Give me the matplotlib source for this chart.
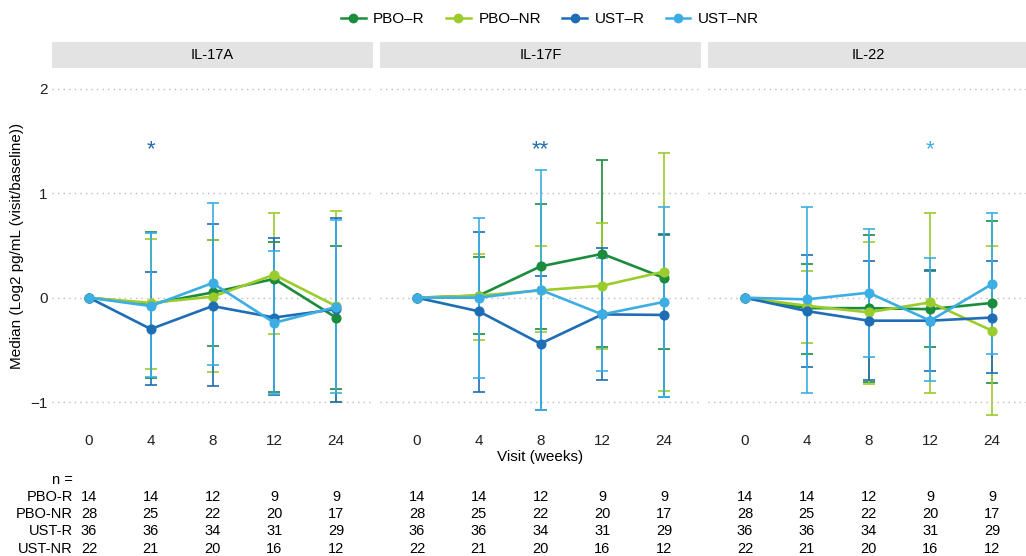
import matplotlib.pyplot as plt
import numpy as np

plt.rcParams['font.family'] = ['Liberation Sans', 'DejaVu Sans']

weeks = ['0', '4', '8', '12', '24']
groups = ['PBO\u2013R', 'PBO\u2013NR', 'UST\u2013R', 'UST\u2013NR']
row_names = ['PBO-R', 'PBO-NR', 'UST-R', 'UST-NR']
colors = ['#1a8c3c', '#9ccc2c', '#1f6db5', '#3daee3']
panels = ['IL-17A', 'IL-17F', 'IL-22']

# medians per panel, per group, per week
il17a_med = [[0, -0.06, 0.05, 0.18, -0.19],
             [0, -0.05, 0.01, 0.22, -0.08],
             [0, -0.30, -0.08, -0.19, -0.11],
             [0, -0.08, 0.14, -0.24, -0.09]]
il17a_lo = [[0, -0.77, -0.46, -0.90, -0.87],
            [0, -0.68, -0.71, -0.35, -1.00],
            [0, -0.84, -0.85, -0.93, -1.00],
            [0, -0.76, -0.64, -0.92, -0.91]]
il17a_hi = [[0, 0.625, 0.555, 0.535, 0.50],
            [0, 0.56, 0.55, 0.81, 0.83],
            [0, 0.25, 0.71, 0.57, 0.765],
            [0, 0.615, 0.91, 0.45, 0.74]]

il17f_med = [[0, 0.02, 0.30, 0.42, 0.19],
             [0, 0.02, 0.07, 0.115, 0.25],
             [0, -0.13, -0.44, -0.16, -0.165],
             [0, 0.0, 0.075, -0.16, -0.04]]
il17f_lo = [[0, -0.35, -0.30, -0.47, -0.49],
            [0, -0.405, -0.33, -0.49, -0.89],
            [0, -0.90, -1.08, -0.79, -0.95],
            [0, -0.77, -1.08, -0.70, -0.95]]
il17f_hi = [[0, 0.39, 0.90, 1.32, 0.60],
            [0, 0.42, 0.50, 0.72, 1.39],
            [0, 0.63, 0.21, 0.48, 0.61],
            [0, 0.76, 1.22, 0.38, 0.87]]

il22_med = [[0, -0.10, -0.10, -0.11, -0.05],
            [0, -0.077, -0.14, -0.045, -0.315],
            [0, -0.128, -0.22, -0.22, -0.19],
            [0, -0.016, 0.048, -0.22, 0.13]]
il22_lo = [[0, -0.54, -0.81, -0.475, -0.82],
           [0, -0.43, -0.83, -0.91, -1.12],
           [0, -0.66, -0.79, -0.70, -0.72],
           [0, -0.91, -0.565, -0.80, -0.54]]
il22_hi = [[0, 0.325, 0.60, 0.26, 0.73],
           [0, 0.26, 0.535, 0.81, 0.50],
           [0, 0.405, 0.35, 0.265, 0.355],
           [0, 0.87, 0.655, 0.385, 0.81]]

# significance marks: (week index, text, group index)
stars = [(1, '*', 2), (2, '**', 2), (3, '*', 3)]

n_counts = [[14, 14, 12, 9, 9],
            [28, 25, 22, 20, 17],
            [36, 36, 34, 31, 29],
            [22, 21, 20, 16, 12]]

med_all = [il17a_med, il17f_med, il22_med]
lo_all = [il17a_lo, il17f_lo, il22_lo]
hi_all = [il17a_hi, il17f_hi, il22_hi]

W, H = 1026, 556
fig = plt.figure(figsize=(W / 100, H / 100), dpi=100)

lefts = [52, 380, 708]
pw = 321
top, bottom = 68, 423
x = np.arange(len(weeks))

for p in range(3):
    ax = fig.add_axes([lefts[p] / W, 1 - bottom / H, pw / W, (bottom - top) / H])
    for g in range(4):
        med = np.array(med_all[p][g])
        lo = np.array(lo_all[p][g])
        hi = np.array(hi_all[p][g])
        ax.errorbar(x[1:], med[1:], yerr=[med[1:] - lo[1:], hi[1:] - med[1:]],
                    fmt='none', ecolor=colors[g], elinewidth=1.2, capsize=4,
                    capthick=1.2, zorder=2 + g)
        ax.plot(x, med, color=colors[g], lw=1.9, marker='o', ms=6.3,
                zorder=6 + g)
    wk, txt, gi = stars[p]
    ax.text(x[wk], 1.42, txt, color=colors[gi], ha='center', va='center',
            fontsize=16)
    ax.set_xlim(-0.6, 4.6)
    ax.set_ylim(-1.2, 2.2)
    ax.set_yticks([-1, 0, 1, 2])
    ax.set_xticks(x)
    ax.set_xticklabels(weeks, fontsize=11)
    ax.grid(axis='y', color='#bbbbbb', linestyle=(0, (1, 3)), lw=1)
    ax.set_axisbelow(True)
    ax.tick_params(axis='x', length=0, pad=8, labelsize=11, colors='#222222')
    ax.tick_params(axis='y', length=0, pad=3, labelsize=11, colors='#222222')
    if p == 0:
        ax.set_yticklabels(['\u22121', '0', '1', '2'])
        ax.set_ylabel('Median (Log2 pg/mL (visit/baseline))', fontsize=11)
        ax.yaxis.set_label_coords(-0.088, 0.5)
    else:
        ax.set_yticklabels([])
    for s in ax.spines.values():
        s.set_visible(False)
    # facet strip
    sax = fig.add_axes([lefts[p] / W, 1 - 68 / H, pw / W, 26 / H])
    sax.set_facecolor('#e3e3e3')
    sax.set_xticks([])
    sax.set_yticks([])
    for s in sax.spines.values():
        s.set_visible(False)
    sax.text(0.5, 0.5, panels[p], ha='center', va='center', fontsize=10.5,
             transform=sax.transAxes)
    # n table
    for g in range(4):
        ypix = 497 + g * 17.2
        for i in range(len(weeks)):
            xd = ax.transData.transform((x[i], 0))[0]
            fig.text(xd / W, 1 - ypix / H, str(n_counts[g][i]), ha='center',
                     va='center', fontsize=10.5)

fig.text(73 / W, 1 - 480 / H, 'n =', ha='right', va='center', fontsize=10.5)
for g in range(4):
    fig.text(73 / W, 1 - (497 + g * 17.2) / H, row_names[g], ha='right',
             va='center', fontsize=10.5)

fig.text(540 / W, 1 - 457 / H, 'Visit (weeks)', ha='center', va='center',
         fontsize=11)

handles = [plt.Line2D([], [], color=c, lw=1.8, marker='o', ms=6) for c in colors]
fig.legend(handles, groups, loc='center', bbox_to_anchor=(550 / W, 1 - 19 / H),
           ncol=4, frameon=False, fontsize=11, handlelength=1.6,
           handletextpad=0.5, columnspacing=1.4)

fig.savefig('out.png', dpi=100)
